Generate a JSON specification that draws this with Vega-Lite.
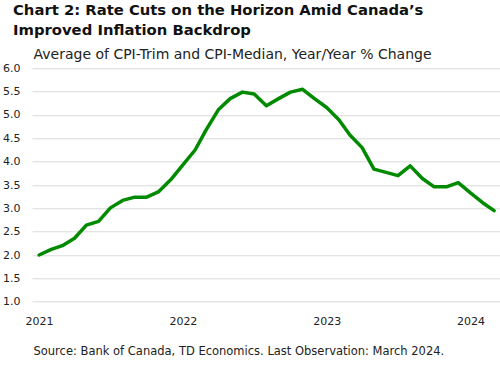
{
  "$schema": "https://vega.github.io/schema/vega-lite/v6.json",
  "width": 468,
  "height": 233.4,
  "autosize": {"type": "none"},
  "padding": {"left": 32, "top": 68.3, "right": 0, "bottom": 65.3},
  "background": "white",
  "title": {
    "text": ["Chart 2: Rate Cuts on the Horizon Amid Canada’s", "Improved Inflation Backdrop"],
    "anchor": "start",
    "frame": "group",
    "dx": -19,
    "font": "DejaVu Sans",
    "fontSize": 14.8,
    "fontWeight": "bold",
    "color": "#111111",
    "lineHeight": 20,
    "offset": 10
  },
  "config": {
    "view": {"stroke": null},
    "font": "DejaVu Sans"
  },
  "data": {
    "values": [
      {"date": "2021-01-01", "value": 2.00},
      {"date": "2021-02-01", "value": 2.12},
      {"date": "2021-03-01", "value": 2.20},
      {"date": "2021-04-01", "value": 2.36},
      {"date": "2021-05-01", "value": 2.64},
      {"date": "2021-06-01", "value": 2.72},
      {"date": "2021-07-01", "value": 3.01},
      {"date": "2021-08-01", "value": 3.17},
      {"date": "2021-09-01", "value": 3.24},
      {"date": "2021-10-01", "value": 3.24},
      {"date": "2021-11-01", "value": 3.36},
      {"date": "2021-12-01", "value": 3.61},
      {"date": "2022-01-01", "value": 3.93},
      {"date": "2022-02-01", "value": 4.25},
      {"date": "2022-03-01", "value": 4.68},
      {"date": "2022-04-01", "value": 5.11},
      {"date": "2022-05-01", "value": 5.35},
      {"date": "2022-06-01", "value": 5.49},
      {"date": "2022-07-01", "value": 5.45},
      {"date": "2022-08-01", "value": 5.20},
      {"date": "2022-09-01", "value": 5.35},
      {"date": "2022-10-01", "value": 5.49},
      {"date": "2022-11-01", "value": 5.55},
      {"date": "2022-12-01", "value": 5.35},
      {"date": "2023-01-01", "value": 5.16},
      {"date": "2023-02-01", "value": 4.90},
      {"date": "2023-03-01", "value": 4.57},
      {"date": "2023-04-01", "value": 4.30},
      {"date": "2023-05-01", "value": 3.84},
      {"date": "2023-06-01", "value": 3.77},
      {"date": "2023-07-01", "value": 3.70},
      {"date": "2023-08-01", "value": 3.91},
      {"date": "2023-09-01", "value": 3.64},
      {"date": "2023-10-01", "value": 3.46},
      {"date": "2023-11-01", "value": 3.46},
      {"date": "2023-12-01", "value": 3.55},
      {"date": "2024-01-01", "value": 3.33},
      {"date": "2024-02-01", "value": 3.12},
      {"date": "2024-03-01", "value": 2.95}
    ]
  },
  "mark": {"type": "line", "color": "#008a00", "strokeWidth": 3.5, "strokeJoin": "round", "strokeCap": "round"},
  "encoding": {
    "x": {
      "field": "date",
      "type": "temporal",
      "scale": {
        "type": "utc",
        "domain": [
          {"year": 2020, "month": 12, "date": 14, "utc": true},
          {"year": 2024, "month": 3, "date": 16, "utc": true}
        ]
      },
      "axis": {
        "values": [
          {"year": 2021, "month": 1, "date": 1, "utc": true},
          {"year": 2022, "month": 1, "date": 1, "utc": true},
          {"year": 2023, "month": 1, "date": 1, "utc": true},
          {"year": 2024, "month": 1, "date": 1, "utc": true}
        ],
        "format": "%Y",
        "grid": false,
        "domain": false,
        "ticks": false,
        "labelPadding": 14,
        "labelFontSize": 11,
        "labelColor": "#222222",
        "labelFont": "DejaVu Sans",
        "title": "Source: Bank of Canada, TD Economics. Last Observation: March 2024.",
        "titleFont": "DejaVu Sans",
        "titleFontSize": 11.5,
        "titleFontWeight": "normal",
        "titleColor": "#222222",
        "titleAlign": "left",
        "titleBaseline": "middle",
        "titleX": 1,
        "titleY": 50
      }
    },
    "y": {
      "field": "value",
      "type": "quantitative",
      "scale": {"domain": [1, 6], "zero": false, "nice": false},
      "axis": {
        "values": [1, 1.5, 2, 2.5, 3, 3.5, 4, 4.5, 5, 5.5, 6],
        "format": ".1f",
        "grid": true,
        "gridColor": "#d9d9d9",
        "gridWidth": 1,
        "domain": false,
        "ticks": false,
        "labelPadding": 12,
        "labelFontSize": 11,
        "labelColor": "#222222",
        "labelFont": "DejaVu Sans",
        "title": "Average of CPI-Trim and CPI-Median, Year/Year % Change",
        "titleFont": "DejaVu Sans",
        "titleFontSize": 14,
        "titleFontWeight": "normal",
        "titleColor": "#222222",
        "titleAngle": 0,
        "titleAlign": "left",
        "titleBaseline": "alphabetic",
        "titleX": 1,
        "titleY": -10
      }
    }
  }
}
